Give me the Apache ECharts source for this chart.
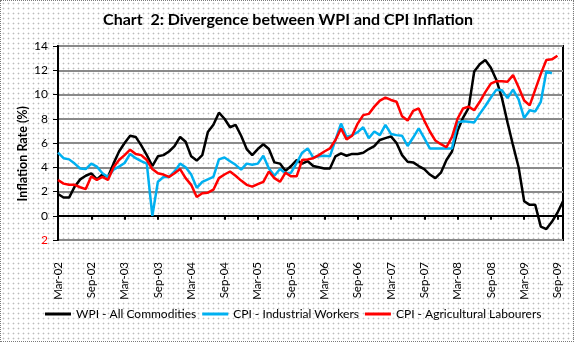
<!DOCTYPE html>
<html>
<head>
<meta charset="utf-8">
<script src="https://cdn.jsdelivr.net/npm/echarts@6/dist/echarts.min.js"></script>
<style>
html,body{margin:0;padding:0;background:#fff;}
#frame{position:absolute;left:0;top:0;width:572px;height:340px;border:1px dotted #7a7a7a;
 background-color:#fff;
 background-image:radial-gradient(circle, #bdbdbd 0.8px, rgba(255,255,255,0) 1.1px);
 background-size:5px 5px;}
#chart{position:absolute;left:0;top:0;width:576px;height:342px;}
</style>
</head>
<body>
<div id="frame"></div>
<div id="chart"></div>
<script>
const months = [
 'Mar-02','Apr-02','May-02','Jun-02','Jul-02','Aug-02','Sep-02','Oct-02','Nov-02','Dec-02',
 'Jan-03','Feb-03','Mar-03','Apr-03','May-03','Jun-03','Jul-03','Aug-03','Sep-03','Oct-03','Nov-03','Dec-03',
 'Jan-04','Feb-04','Mar-04','Apr-04','May-04','Jun-04','Jul-04','Aug-04','Sep-04','Oct-04','Nov-04','Dec-04',
 'Jan-05','Feb-05','Mar-05','Apr-05','May-05','Jun-05','Jul-05','Aug-05','Sep-05','Oct-05','Nov-05','Dec-05',
 'Jan-06','Feb-06','Mar-06','Apr-06','May-06','Jun-06','Jul-06','Aug-06','Sep-06','Oct-06','Nov-06','Dec-06',
 'Jan-07','Feb-07','Mar-07','Apr-07','May-07','Jun-07','Jul-07','Aug-07','Sep-07','Oct-07','Nov-07','Dec-07',
 'Jan-08','Feb-08','Mar-08','Apr-08','May-08','Jun-08','Jul-08','Aug-08','Sep-08','Oct-08','Nov-08','Dec-08',
 'Jan-09','Feb-09','Mar-09','Apr-09','May-09','Jun-09','Jul-09','Aug-09','Sep-09','Oct-09'
];

const wpiAll = [
 1.8,1.5,1.5,2.4,3.0,3.3,3.5,3.0,3.4,3.2,
 4.3,5.3,6.0,6.6,6.5,5.8,5.0,4.1,4.9,5.0,5.3,5.75,
 6.5,6.1,4.9,4.55,5.0,6.9,7.5,8.5,8.0,7.3,7.5,6.6,
 5.5,5.0,5.5,5.9,5.5,4.4,4.3,3.7,4.1,4.6,4.3,4.5,
 4.1,4.0,3.9,3.9,4.9,5.15,4.95,5.1,5.1,5.2,5.5,5.75,
 6.25,6.4,6.55,6.0,5.0,4.45,4.4,4.1,3.85,3.4,3.1,3.55,
 4.6,5.3,7.0,8.1,8.9,11.9,12.5,12.85,12.2,11.2,9.7,7.7,
 5.8,4.0,1.2,0.9,0.9,-0.9,-1.1,-0.5,0.25,1.2
];

const cpiIW = [
 5.2,4.75,4.65,4.3,3.9,3.85,4.3,4.05,3.5,3.2,
 3.8,4.05,4.35,5.1,4.75,4.5,4.3,0.0,2.8,3.2,3.2,3.65,
 4.3,4.0,3.4,2.3,2.8,3.0,3.2,4.65,4.8,4.5,4.2,3.8,
 4.3,4.2,4.3,4.95,3.9,3.3,3.85,3.5,3.55,4.35,5.2,5.55,
 4.8,4.9,4.95,4.9,6.25,7.6,6.5,6.65,6.9,7.3,6.4,6.95,
 6.65,7.5,6.75,6.65,6.6,5.75,6.45,7.2,6.4,5.55,5.55,5.55,
 5.55,5.55,7.7,7.8,7.75,7.7,8.4,9.05,9.75,10.4,10.35,9.7,
 10.4,9.6,8.05,8.7,8.6,9.4,11.9,11.75
];

const cpiAL = [
 2.95,2.65,2.55,2.55,2.35,2.2,3.25,2.95,3.2,2.95,
 4.0,4.6,5.0,5.45,5.1,5.0,4.6,3.85,3.5,3.4,3.2,3.5,
 3.85,3.1,2.55,1.55,1.85,1.9,2.15,3.1,3.4,3.65,3.3,2.9,
 2.55,2.4,2.6,2.8,3.65,3.1,2.8,3.55,3.25,3.25,4.6,4.65,
 4.75,5.0,5.3,5.55,6.25,7.2,6.3,6.6,7.6,8.3,8.4,9.0,
 9.5,9.75,9.55,9.4,8.2,7.85,8.65,8.85,7.85,6.95,6.2,5.9,
 5.65,6.5,8.0,8.85,9.0,8.7,9.4,10.2,10.9,11.1,11.1,11.05,
 11.6,10.6,9.5,9.1,10.4,11.7,12.85,12.9,13.2
];

const seriesNames = ['WPI - All Commodities','CPI - Industrial Workers','CPI - Agricultural Labourers'];
const seriesColors = ['#000000','#00B0F0','#FF0000'];
const yTicks = {min:-2, max:14, step:2};

const FONT = 'Lato, "Open Sans", sans-serif';
const chart = echarts.init(document.getElementById('chart'), null, {renderer:'canvas'});

const seriesData = [wpiAll, cpiIW, cpiAL];

chart.setOption({
  backgroundColor: 'transparent',
  animation: false,
  title: {
    text: 'Chart  2: Divergence between WPI and CPI Inflation',
    left: 'center',
    top: 7,
    textStyle: {fontFamily: FONT, fontSize: 16, fontWeight: 'bold', color: '#000'}
  },
  grid: {left: 58, top: 46, width: 505, height: 194, show: true, borderColor: '#000', borderWidth: 2, backgroundColor: 'transparent'},
  legend: {
    data: seriesNames,
    left: 40, top: 303,
    itemWidth: 26, itemHeight: 3, itemGap: 6,
    icon: 'rect',
    textStyle: {fontFamily: FONT, fontSize: 12, color: '#000'}
  },
  xAxis: {
    type: 'category',
    data: months,
    boundaryGap: false,
    axisLine: {onZero: true, lineStyle: {color: '#000', width: 2}},
    axisTick: {show: true, interval: 5, length: 4, lineStyle: {color: '#000', width: 2}},
    axisLabel: {interval: 5, rotate: 90, margin: 22, fontFamily: FONT, fontSize: 11.5, color: '#000'},
    splitLine: {show: false}
  },
  yAxis: {
    type: 'value',
    min: yTicks.min, max: yTicks.max, interval: yTicks.step,
    axisLine: {show: true, lineStyle: {color: '#000', width: 2}},
    axisTick: {show: true, length: 5, lineStyle: {color: '#000', width: 1}},
    axisLabel: {
      margin: 10, fontFamily: FONT, fontSize: 12,
      formatter: v => String(Math.abs(v)),
      color: v => (Number(v) < 0 ? '#FF0000' : '#000')
    },
    splitLine: {show: true, lineStyle: {color: '#8a8a8a', width: 2}}
  },
  graphic: [{
    type: 'text', left: 16, top: 106, rotation: Math.PI/2,
    style: {text: 'Inflation Rate (%)', font: 'bold 12.5px ' + FONT, fill: '#000'}
  }],
  series: seriesNames.map((n, k) => ({
    name: n, type: 'line', data: seriesData[k],
    showSymbol: false, symbol: 'none',
    lineStyle: {color: seriesColors[k], width: 2.5},
    itemStyle: {color: seriesColors[k]},
    z: 3 + k
  }))
});
</script>
</body>
</html>
